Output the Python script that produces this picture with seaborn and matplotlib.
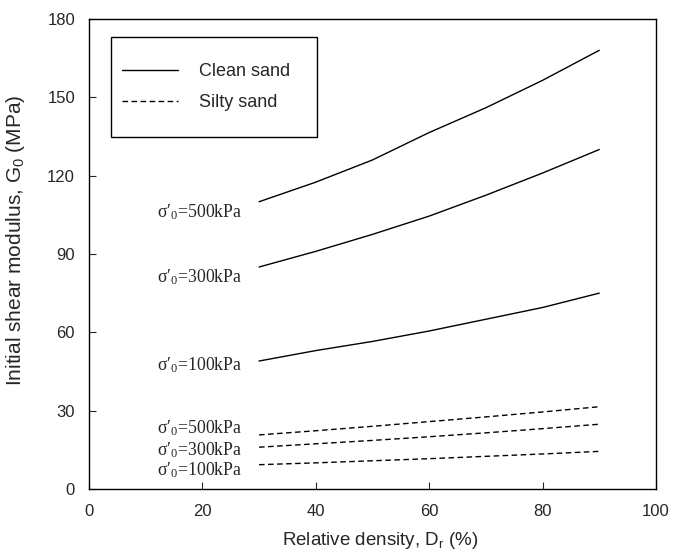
import numpy as np
import pandas as pd
import matplotlib
matplotlib.use("Agg")
import matplotlib.pyplot as plt
from matplotlib.patches import Rectangle
import seaborn as sns

# relative density (%)
dr = [30, 40, 50, 60, 70, 80, 90]

# initial shear modulus G0 (MPa)
clean_500 = [110, 117.5, 126, 136.5, 146, 156.5, 168]
clean_300 = [85, 91, 97.5, 104.5, 112.5, 121, 130]
clean_100 = [49, 53, 56.5, 60.5, 65, 69.5, 75]
silty_500 = [20.7, 22.3, 24, 25.8, 27.6, 29.5, 31.5]
silty_300 = [16, 17.3, 18.6, 20, 21.5, 23.1, 24.8]
silty_100 = [9.3, 10, 10.8, 11.6, 12.5, 13.4, 14.4]

curves = {
    ("Clean sand", 500): clean_500,
    ("Clean sand", 300): clean_300,
    ("Clean sand", 100): clean_100,
    ("Silty sand", 500): silty_500,
    ("Silty sand", 300): silty_300,
    ("Silty sand", 100): silty_100,
}

# label text and where it sits (x, y in data units)
stress_labels = ["σ′$_0$=500kPa", "σ′$_0$=300kPa", "σ′$_0$=100kPa",
                 "σ′$_0$=500kPa", "σ′$_0$=300kPa", "σ′$_0$=100kPa"]
label_x = [12, 12, 12, 12, 12, 12]
label_y = [106, 81.2, 47.5, 23.4, 14.9, 7.3]

rows = []
for (sand, stress), vals in curves.items():
    for d, g in zip(dr, vals):
        rows.append({"Dr": d, "G0": g, "sand": sand, "stress": stress})
df = pd.DataFrame(rows)

sns.set_style("ticks")
plt.rcParams["font.family"] = ["Liberation Sans", "DejaVu Sans"]
plt.rcParams["mathtext.default"] = "regular"

fig = plt.figure(figsize=(6.84, 5.58), dpi=100)
ax = fig.add_axes([0.130, 0.1237, 0.829, 0.8423])

sns.lineplot(data=df, x="Dr", y="G0", style="sand", units="stress",
             estimator=None, color="black", linewidth=1.0,
             dashes={"Clean sand": "", "Silty sand": (4, 2.5)}, ax=ax)

for txt, x, y in zip(stress_labels, label_x, label_y):
    ax.text(x, y, txt, fontsize=12.8, va="center", ha="left",
            family=["Liberation Serif", "DejaVu Serif"])

ax.set_xlim(0, 100)
ax.set_ylim(0, 180)
ax.set_xticks(np.arange(0, 101, 20))
ax.set_yticks(np.arange(0, 181, 30))
ax.tick_params(direction="in", length=5, width=0.8, labelsize=12)
ax.tick_params(axis="x", pad=11)
ax.tick_params(axis="y", pad=10)
for s in ax.spines.values():
    s.set_linewidth(1.0)
    s.set_color("black")
ax.set_xlabel("Relative density, D$_r$ (%)", fontsize=13.5, labelpad=8, x=0.513)
ax.set_ylabel("Initial shear modulus, G$_0$ (MPa)", fontsize=15)
ax.yaxis.set_label_coords(-0.11, 0.53)

# legend box drawn by hand, legend entries placed inside it
ax.add_patch(Rectangle((0.039, 0.749), 0.363, 0.213, transform=ax.transAxes,
                       fill=False, edgecolor="black", linewidth=1.0, zorder=3))
handles, labels = ax.get_legend_handles_labels()
leg = ax.legend(handles, labels, loc="center left",
                bbox_to_anchor=(0.058, 0.855), frameon=False,
                fontsize=13, handlelength=3.1, handletextpad=1.2,
                labelspacing=0.75, borderpad=0, borderaxespad=0)

fig.savefig("out.png", dpi=100)
